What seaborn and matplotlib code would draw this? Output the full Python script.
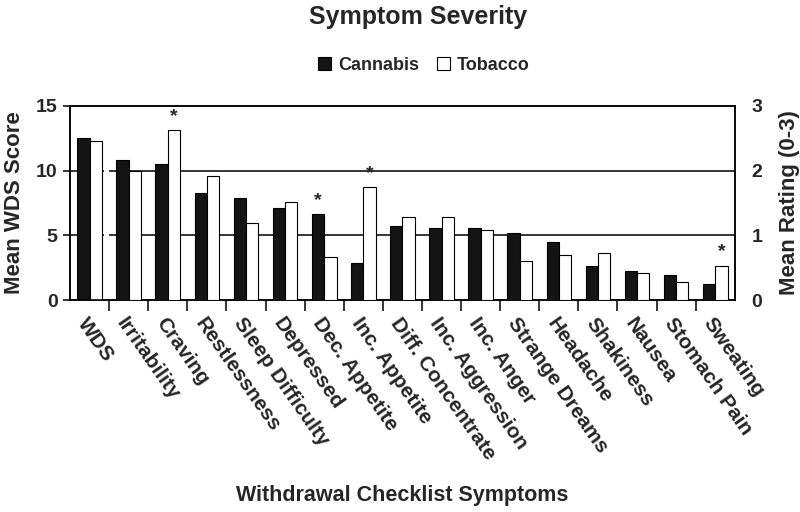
import pandas as pd
import numpy as np
import seaborn as sns
import matplotlib.pyplot as plt
from matplotlib.ticker import FixedLocator

sns.set_style("white")
plt.rcParams['font.family'] = ['Liberation Sans', 'DejaVu Sans']
plt.rcParams['font.weight'] = 'bold'

# data
groups = ["Cannabis", "Tobacco"]
symptoms = ["Irritability", "Craving", "Restlessness", "Sleep Difficulty", "Depressed",
            "Dec. Appetite", "Inc. Appetite", "Diff. Concentrate", "Inc. Aggression",
            "Inc. Anger", "Strange Dreams", "Headache", "Shakiness", "Nausea",
            "Stomach Pain", "Sweating"]
categories = ["WDS"] + symptoms

wds_cannabis = 12.5
wds_tobacco = 12.3
rating_cannabis = [2.16, 2.10, 1.66, 1.58, 1.42, 1.33, 0.58, 1.14, 1.11, 1.11,
                   1.03, 0.89, 0.53, 0.45, 0.39, 0.25]
rating_tobacco = [1.99, 2.63, 1.91, 1.19, 1.52, 0.67, 1.74, 1.28, 1.28, 1.08,
                  0.61, 0.70, 0.72, 0.42, 0.28, 0.53]
# significant differences marked with *
significant = [("Craving", "Tobacco"), ("Dec. Appetite", "Cannabis"),
               ("Inc. Appetite", "Tobacco"), ("Sweating", "Tobacco")]

wds_df = pd.DataFrame({"Symptom": ["WDS", "WDS"], "Group": groups,
                       "Value": [wds_cannabis, wds_tobacco]})
sym_df = pd.DataFrame({"Symptom": symptoms * 2,
                       "Group": ["Cannabis"] * len(symptoms) + ["Tobacco"] * len(symptoms),
                       "Value": rating_cannabis + rating_tobacco})

palette = {"Cannabis": "#141414", "Tobacco": "white"}

fig = plt.figure(figsize=(8, 5.12), dpi=100)
ax = fig.add_axes([0.0875, 0.414, 0.831, 0.379])
ax2 = ax.twinx()

sns.barplot(data=wds_df, x="Symptom", y="Value", hue="Group", order=categories,
            hue_order=groups, palette=palette, width=0.63, edgecolor="black",
            linewidth=0.8, ax=ax, legend=False, zorder=3)
sns.barplot(data=sym_df, x="Symptom", y="Value", hue="Group", order=categories,
            hue_order=groups, palette=palette, width=0.63, edgecolor="black",
            linewidth=0.8, ax=ax2, zorder=3)

ax.set_ylim(0, 15)
ax2.set_ylim(0, 3)
ax.set_xlim(-0.5, len(categories) - 0.5)
ax.set_yticks([0, 5, 10, 15])
ax2.set_yticks([0, 1, 2, 3])
# grid lines, broken between the WDS panel and the symptom panel
ax.hlines([5, 10], -0.5, 0.38, color="black", lw=1.1, zorder=1)
ax.hlines([5, 10], 0.5, len(categories) - 0.5, color="black", lw=1.1, zorder=1)

for a in (ax, ax2):
    for s in a.spines.values():
        s.set_color("black")
        s.set_linewidth(1.1)

ax.tick_params(axis="y", direction="out", length=5, width=1.1, color="black",
               left=True, labelsize=14, pad=4)
ax2.tick_params(axis="y", length=0, labelsize=14, pad=12)
ax.set_ylabel("Mean WDS Score", fontsize=16, fontweight="bold", labelpad=8)
ax2.set_ylabel("Mean Rating (0-3)", fontsize=16, fontweight="bold", labelpad=12)

# tick marks between the groups, labels at group centers
ax.xaxis.set_minor_locator(FixedLocator(np.arange(0.5, len(categories) - 1, 1)))
ax.tick_params(axis="x", which="minor", direction="out", length=8, width=1.1,
               color="black", bottom=True)
ax.tick_params(axis="x", which="major", length=0, pad=10)
ax.set_xticks(range(len(categories)))
ax.set_xticklabels(categories, rotation=-55, ha="left", rotation_mode="anchor",
                   fontsize=15, fontweight="bold")
ax.set_xlabel("Withdrawal Checklist Symptoms", fontsize=15.5, fontweight="bold")
ax.xaxis.set_label_coords(0.5, -0.955)

# asterisks over the significant bars
for cont, grp in zip(ax2.containers, groups):
    for bar, sym in zip(cont, symptoms):
        if (sym, grp) in significant:
            ax2.text(bar.get_x() + bar.get_width() / 2, bar.get_height() + 0.08, "*",
                     ha="center", va="bottom", fontsize=14, fontweight="bold")

handles, labels = ax2.get_legend_handles_labels()
ax2.get_legend().remove()
fig.legend(handles, labels, loc="center", bbox_to_anchor=(0.53, 0.873), ncol=2,
           frameon=False, handlelength=0.7, handleheight=0.7,
           handletextpad=0.4, columnspacing=1.0, prop={"weight": "bold", "size": 13})

fig.suptitle("Symptom Severity", x=0.523, y=0.99, fontsize=18, fontweight="bold")

plt.savefig("out.png", dpi=100)
